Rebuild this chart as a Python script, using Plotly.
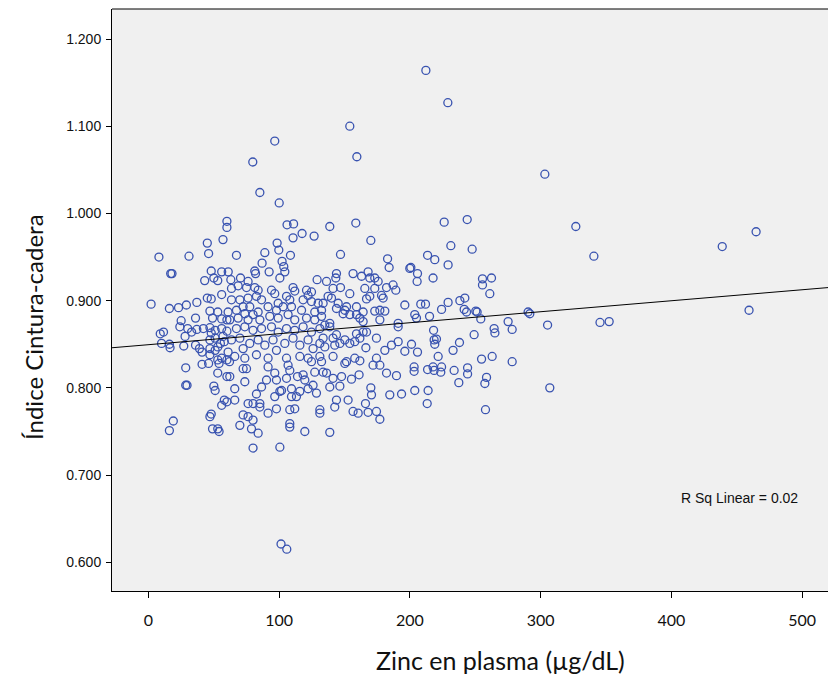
import plotly.graph_objects as go

# ---- data (Zinc en plasma µg/dL, Índice cintura-cadera) ----
zinc_a = [60, 60, 45, 57, 8, 31, 46, 17, 18, 48,
          56, 61, 50, 43, 53, 56, 45, 48, 2, 16,
          23, 29, 37, 47, 53, 25, 36, 49, 56, 60]
icc_a = [0.991, 0.984, 0.966, 0.970, 0.950, 0.951, 0.954, 0.931, 0.931, 0.934,
         0.933, 0.933, 0.926, 0.923, 0.923, 0.907, 0.903, 0.902, 0.896, 0.891,
         0.892, 0.895, 0.898, 0.888, 0.887, 0.877, 0.880, 0.880, 0.879, 0.878]

zinc_b = [9, 11.5, 10, 16, 16.5, 27, 24, 30, 33, 37,
          42, 47, 51, 56, 60, 28, 36, 39, 41, 47,
          51, 53, 47, 53, 56, 41, 46, 54, 28.5, 53,
          60, 28.5, 29.5, 50, 51, 58, 60, 56, 48, 47,
          19, 16, 49, 53, 54, 48, 57, 47, 51, 55,
          58, 60, 62]
icc_b = [0.862, 0.864, 0.851, 0.850, 0.846, 0.848, 0.870, 0.868, 0.864, 0.867,
         0.868, 0.869, 0.866, 0.868, 0.865, 0.859, 0.849, 0.845, 0.841, 0.845,
         0.843, 0.847, 0.838, 0.832, 0.834, 0.827, 0.828, 0.828, 0.823, 0.817,
         0.813, 0.803, 0.803, 0.802, 0.797, 0.786, 0.784, 0.780, 0.770, 0.767,
         0.762, 0.751, 0.753, 0.753, 0.750, 0.863, 0.859, 0.855, 0.857, 0.851,
         0.853, 0.832, 0.830]

zinc_c = [100, 106, 111, 117.5, 110.6, 126.7, 98.4, 99.7, 89, 67.3,
          108.6, 86.9, 102.2, 103.5, 81.3, 81.9, 92.3, 104.3, 100.5, 70.4,
          63, 129, 76.2, 68.6, 63.5, 75, 81.3, 83.9, 94.1, 96.6,
          110.6, 111.9, 120.9, 122.1, 124.7, 105.6, 108.1, 118.3, 124.7, 129.8,
          63.5, 69.9, 76.2, 82.6, 86.5, 91.5, 99.2, 97.9, 103, 109.4,
          117.1, 127.2, 132.4, 60.9, 67.3, 73.7, 80, 83.9, 77.5, 72.4,
          62.2, 68.6, 76.2, 85.2, 92.8, 99.2, 106.8, 111.9, 120.9, 127.2,
          132.4]
icc_c = [1.012, 0.987, 0.988, 0.977, 0.972, 0.974, 0.966, 0.958, 0.955, 0.952,
         0.952, 0.943, 0.945, 0.939, 0.934, 0.931, 0.933, 0.933, 0.926, 0.926,
         0.924, 0.924, 0.922, 0.917, 0.914, 0.915, 0.915, 0.912, 0.912, 0.908,
         0.915, 0.911, 0.912, 0.906, 0.910, 0.905, 0.901, 0.901, 0.899, 0.897,
         0.901, 0.901, 0.903, 0.905, 0.901, 0.893, 0.897, 0.889, 0.893, 0.893,
         0.889, 0.887, 0.889, 0.887, 0.889, 0.885, 0.884, 0.887, 0.893, 0.893,
         0.878, 0.880, 0.878, 0.878, 0.882, 0.880, 0.884, 0.878, 0.880, 0.878,
         0.882]

zinc_d = [67.3, 73.7, 80, 86.5, 94.1, 99.2, 105.6, 111.9, 118.3, 124.7,
          131.1, 63.5, 69.9, 72.4, 77.5, 83.9, 89, 95.3, 97.9, 104.3,
          110.6, 115.8, 122.1, 125.9, 131.1, 60.9, 66, 73.7, 72.4, 75,
          82.6, 91.5, 91.5, 105.6, 106.8, 115.8, 122.1, 124.7, 131.1, 133.6,
          127.2, 118.3, 119.6, 114, 108.1, 105.6, 96.6, 97.9, 90.3, 100.5,
          96.6, 101.8, 109.4, 115.8, 122.1, 125.9, 128.5, 113.2, 109.4, 62.2,
          73.7, 66, 86.5, 82.6, 76.2, 80, 85.2, 85.2, 66, 91.5,
          97.9, 108.1, 111.9, 131.1, 131.1, 72.4, 76.2, 80, 69.9, 78.8,
          83.9, 108.1, 108.1, 119.6, 80, 100.5]
icc_d = [0.868, 0.870, 0.866, 0.868, 0.870, 0.864, 0.868, 0.866, 0.870, 0.864,
         0.868, 0.855, 0.857, 0.845, 0.851, 0.855, 0.849, 0.855, 0.843, 0.851,
         0.857, 0.849, 0.855, 0.845, 0.851, 0.841, 0.836, 0.834, 0.822, 0.822,
         0.838, 0.834, 0.824, 0.834, 0.826, 0.836, 0.834, 0.830, 0.836, 0.818,
         0.818, 0.815, 0.809, 0.813, 0.820, 0.811, 0.817, 0.809, 0.809, 0.796,
         0.790, 0.797, 0.799, 0.796, 0.799, 0.803, 0.794, 0.790, 0.790, 0.813,
         0.807, 0.799, 0.801, 0.793, 0.782, 0.782, 0.782, 0.778, 0.786, 0.771,
         0.776, 0.775, 0.776, 0.775, 0.771, 0.769, 0.767, 0.763, 0.757, 0.753,
         0.748, 0.759, 0.755, 0.750, 0.731, 0.732]

zinc_e = [138.7, 158.6, 170.1, 146.9, 182.9, 184.1, 199.9, 200.7, 205.8, 205.5,
          143.8, 143.3, 156.5, 163, 168, 169.3, 173.1, 175.7, 136.2, 141.2,
          146.9, 165.5, 173.1, 182.1, 187.1, 189.2, 154, 137.4, 140, 178.3,
          179.5, 166.8, 169.3, 133.6, 145.1, 143.8, 151.5, 159.1, 164.2, 173.1,
          177, 180.8, 196.1, 148.9, 154, 159.1, 161.7, 164.2, 150.2, 138.7,
          177, 191, 203.7, 205, 134.9]
icc_e = [0.985, 0.989, 0.969, 0.953, 0.948, 0.938, 0.937, 0.938, 0.931, 0.922,
         0.931, 0.926, 0.931, 0.928, 0.933, 0.926, 0.926, 0.922, 0.922, 0.914,
         0.915, 0.914, 0.914, 0.915, 0.918, 0.912, 0.908, 0.905, 0.903, 0.906,
         0.903, 0.902, 0.905, 0.897, 0.897, 0.891, 0.893, 0.893, 0.887, 0.888,
         0.889, 0.888, 0.895, 0.885, 0.884, 0.884, 0.880, 0.876, 0.889, 0.874,
         0.878, 0.874, 0.884, 0.880, 0.872]

zinc_f = [138.7, 133.6, 134.9, 141.2, 143.8, 146.4, 142.5, 150.2, 154, 157.8,
          161.7, 164.2, 159.1, 166.8, 174.4, 191, 141.2, 132.4, 136.2, 150.2,
          151.5, 157.8, 161.7, 166.3, 174.4, 171.8, 177, 180.8, 185.9, 191,
          196.1, 201.2, 205.8, 182.1, 189.7, 203.2, 203.2, 141.2, 147.7, 155.3,
          161.1, 138.7, 146.4, 170.1, 170.6, 184.6, 193.6, 203.7, 143.8, 152.7,
          142.5, 166, 156.5, 160.4, 168, 174.4, 177, 138.7]
icc_f = [0.870, 0.857, 0.847, 0.857, 0.861, 0.851, 0.849, 0.855, 0.851, 0.853,
         0.857, 0.864, 0.862, 0.864, 0.857, 0.870, 0.836, 0.830, 0.817, 0.828,
         0.830, 0.834, 0.831, 0.846, 0.834, 0.826, 0.826, 0.843, 0.849, 0.853,
         0.842, 0.850, 0.841, 0.817, 0.814, 0.824, 0.819, 0.811, 0.813, 0.810,
         0.815, 0.801, 0.802, 0.800, 0.792, 0.792, 0.793, 0.797, 0.786, 0.786,
         0.778, 0.782, 0.773, 0.771, 0.772, 0.773, 0.764, 0.749]

zinc_g = [226.2, 243.8, 231.3, 247.6, 213.5, 219, 229.2, 217.7, 255.5, 262.4,
          255.5, 261.1, 208.3, 211.9, 224.2, 229.2, 238.2, 242, 241.5, 243.3,
          250.4, 251.4, 254.2, 290.4, 291.7, 215, 275.1, 278.2, 264.4, 265,
          305.3, 218.1, 249.1, 218.5, 220.3, 219, 237.9, 233, 221.6, 254.8,
          262.9, 278.2, 213.5, 217.7, 218.5, 224.2, 223.6, 233.8, 244.1, 244.1,
          237.4, 258.6, 257.3, 307, 213.9, 213.2, 257.8]
icc_g = [0.990, 0.993, 0.963, 0.959, 0.952, 0.947, 0.941, 0.926, 0.925, 0.926,
         0.918, 0.908, 0.896, 0.896, 0.890, 0.898, 0.900, 0.903, 0.890, 0.887,
         0.888, 0.887, 0.879, 0.887, 0.885, 0.882, 0.876, 0.867, 0.868, 0.863,
         0.872, 0.866, 0.861, 0.855, 0.856, 0.850, 0.852, 0.843, 0.836, 0.833,
         0.836, 0.830, 0.821, 0.824, 0.820, 0.824, 0.818, 0.820, 0.823, 0.816,
         0.806, 0.812, 0.805, 0.800, 0.797, 0.782, 0.775]

zinc_out = [212.2, 229, 154, 159.4, 96.6, 79.8, 85.2, 303.2, 326.9, 340.7,
            345.4, 352.4, 438.9, 464.8, 459.4, 101.4, 105.8]
icc_out = [1.164, 1.127, 1.100, 1.065, 1.083, 1.059, 1.024, 1.045, 0.985, 0.951,
           0.875, 0.876, 0.962, 0.979, 0.889, 0.621, 0.615]

# linear fit shown in the reference
fit_intercept = 0.8495
fit_slope = 0.000126
r_sq_label = "R Sq Linear = 0.02"

x_ticks = [0, 100, 200, 300, 400, 500]
y_ticks = [0.6, 0.7, 0.8, 0.9, 1.0, 1.1, 1.2]
x_title = "Zinc en plasma (µg/dL)"
y_title = "Índice Cintura-cadera"

x_range = [-27.9, 519.8]
y_range = [0.5671, 1.2344]

zinc = zinc_a + zinc_b + zinc_c + zinc_d + zinc_e + zinc_f + zinc_g + zinc_out
icc = icc_a + icc_b + icc_c + icc_d + icc_e + icc_f + icc_g + icc_out

fig = go.Figure()
fig.add_trace(go.Scatter(
    x=zinc, y=icc, mode="markers",
    marker=dict(symbol="circle-open", size=8, color="#3953b0", line=dict(width=1.3)),
    showlegend=False, hoverinfo="skip"))
fig.add_trace(go.Scatter(
    x=x_range, y=[fit_intercept + fit_slope * v for v in x_range], mode="lines",
    line=dict(color="black", width=1), showlegend=False, hoverinfo="skip"))

fig.update_layout(
    width=828, height=676,
    margin=dict(l=112, r=0, t=9, b=85, pad=0),
    paper_bgcolor="white", plot_bgcolor="#f0f0f0",
    showlegend=False,
    shapes=[dict(type="line", xref="paper", yref="paper", x0=0, x1=1, y0=1, y1=1,
                 line=dict(color="black", width=1))],
    annotations=[
        dict(text=r_sq_label, x=451.8, y=0.6735, xref="x", yref="y",
             xanchor="center", yanchor="middle", showarrow=False,
             font=dict(family="Liberation Sans, Arial", size=14, color="#111")),
        dict(text=x_title, x=(500 - 112) / 716, y=(591 - 660) / 582, xref="paper", yref="paper",
             xanchor="center", yanchor="middle", showarrow=False,
             font=dict(family="Lato", size=25, color="#111")),
        dict(text=y_title, x=(33 - 112) / 716, y=(591 - 327) / 582, xref="paper", yref="paper",
             xanchor="center", yanchor="middle", showarrow=False, textangle=-90,
             font=dict(family="Lato", size=24, color="#111")),
    ],
)
fig.update_xaxes(
    range=x_range, tickmode="array", tickvals=x_ticks, ticktext=[str(v) for v in x_ticks],
    ticks="outside", ticklen=6, tickwidth=1, tickcolor="black", ticklabelstandoff=9,
    showgrid=False, zeroline=False, showline=True, linecolor="black", linewidth=1,
    tickfont=dict(family="Lato", size=16, color="#111"))
fig.update_yaxes(
    range=y_range, tickmode="array", tickvals=y_ticks, ticktext=[f"{v:.3f}" for v in y_ticks],
    ticks="outside", ticklen=5, tickwidth=1, tickcolor="black", ticklabelstandoff=2,
    showgrid=False, zeroline=False, showline=True, linecolor="black", linewidth=1,
    tickfont=dict(family="Liberation Sans, Arial", size=14, color="#111"))

fig.write_html("out.html")
